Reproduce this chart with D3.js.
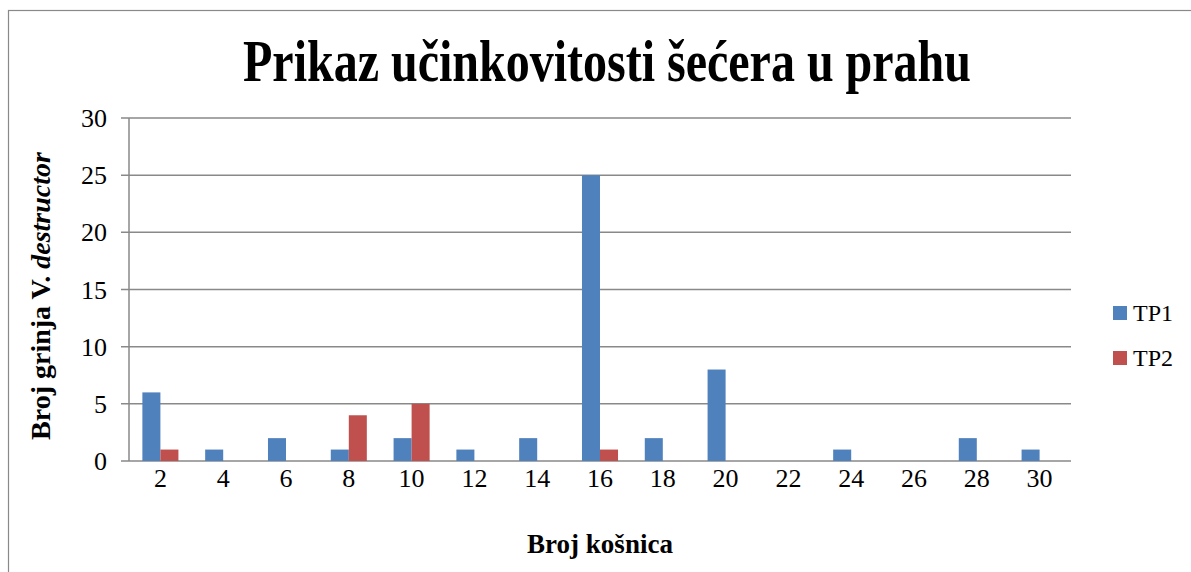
<!DOCTYPE html>
<html>
<head>
<meta charset="utf-8">
<script src="https://cdn.jsdelivr.net/npm/d3@7"></script>
<style>
body { margin: 0; background: #fff; }
text { font-family: "Liberation Serif", "Times New Roman", serif; fill: #000; }
</style>
</head>
<body>
<div id="chart"></div>
<script>
var categories = ["2","4","6","8","10","12","14","16","18","20","22","24","26","28","30"];
var tp1 = [6,1,2,1,2,1,2,25,2,8,0,1,0,2,1];
var tp2 = [1,0,0,4,5,0,0,1,0,0,0,0,0,0,0];
var seriesNames = ["TP1","TP2"];
var colors = ["#4F81BD","#C0504D"];
var yTicks = [0,5,10,15,20,25,30];

var W = 1191, H = 572;
var m = {l:129, r:120, t:118, b:111};
var w = W - m.l - m.r, h = H - m.t - m.b;

var svg = d3.select("#chart").append("svg")
  .attr("width", W)
  .attr("height", H);

// outer frame
svg.append("rect")
  .attr("x", 8.5).attr("y", 10.5)
  .attr("width", W + 20).attr("height", H + 20)
  .attr("fill", "none").attr("stroke", "#898989").attr("stroke-width", 1.2);

var g = svg.append("g").attr("transform", "translate(" + m.l + "," + m.t + ")");

var x0 = d3.scaleBand().domain(categories).range([0, w]);
var x1 = d3.scaleBand().domain(seriesNames)
  .range([x0.bandwidth() * 0.213, x0.bandwidth() * 0.787]);
var y = d3.scaleLinear().domain([0, 30]).range([h, 0]);

// gridlines
g.selectAll(".grid").data(yTicks).enter().append("line")
  .attr("x1", -8).attr("x2", w)
  .attr("y1", function(d) { return y(d); })
  .attr("y2", function(d) { return y(d); })
  .attr("stroke", "#898989").attr("stroke-width", 1.5);

g.append("line")
  .attr("x1", 0).attr("x2", 0).attr("y1", 0).attr("y2", h)
  .attr("stroke", "#898989").attr("stroke-width", 1.5);

// y tick labels
g.selectAll(".ylab").data(yTicks).enter().append("text")
  .attr("x", -22)
  .attr("y", function(d) { return y(d); })
  .attr("dy", "0.35em")
  .attr("text-anchor", "end")
  .style("font-size", "26px")
  .text(function(d) { return d; });

// x labels
g.selectAll(".xlab").data(categories).enter().append("text")
  .attr("x", function(d) { return x0(d) + x0.bandwidth() / 2; })
  .attr("y", h + 17)
  .attr("dy", "0.35em")
  .attr("text-anchor", "middle")
  .style("font-size", "26px")
  .text(function(d) { return d; });

// bars
var rows = categories.map(function(c, i) {
  return {cat: c, vals: [{s: "TP1", v: tp1[i]}, {s: "TP2", v: tp2[i]}]};
});
var grp = g.selectAll(".cat").data(rows).enter().append("g")
  .attr("transform", function(d) { return "translate(" + x0(d.cat) + ",0)"; });
grp.selectAll("rect").data(function(d) { return d.vals.filter(function(e) { return e.v > 0; }); })
  .enter().append("rect")
  .attr("x", function(d) { return x1(d.s); })
  .attr("y", function(d) { return y(d.v); })
  .attr("width", x1.bandwidth())
  .attr("height", function(d) { return h - y(d.v); })
  .attr("fill", function(d) { return colors[seriesNames.indexOf(d.s)]; });

// title (narrow, tall face like the original)
svg.append("text")
  .attr("transform", "translate(607,81) scale(0.8,1)")
  .attr("text-anchor", "middle")
  .style("font-size", "60px").style("font-weight", "bold")
  .text("Prikaz učinkovitosti šećera u prahu");

// axis titles
svg.append("text")
  .attr("x", 600).attr("y", 553)
  .attr("text-anchor", "middle")
  .style("font-size", "27px").style("font-weight", "bold")
  .text("Broj košnica");

var yt = svg.append("text")
  .attr("transform", "translate(50,296) rotate(-90)")
  .attr("text-anchor", "middle")
  .style("font-size", "28px").style("font-weight", "bold");
yt.append("tspan").text("Broj grinja V. ");
yt.append("tspan").style("font-style", "italic").text("destructor");

// legend
var lg = svg.append("g").attr("transform", "translate(1113,313)");
seriesNames.forEach(function(s, i) {
  lg.append("rect")
    .attr("x", 0).attr("y", i * 45 - 7)
    .attr("width", 14).attr("height", 14)
    .attr("fill", colors[i]);
  lg.append("text")
    .attr("x", 20).attr("y", i * 45)
    .attr("dy", "0.35em")
    .style("font-size", "24px")
    .text(s);
});
</script>
</body>
</html>
